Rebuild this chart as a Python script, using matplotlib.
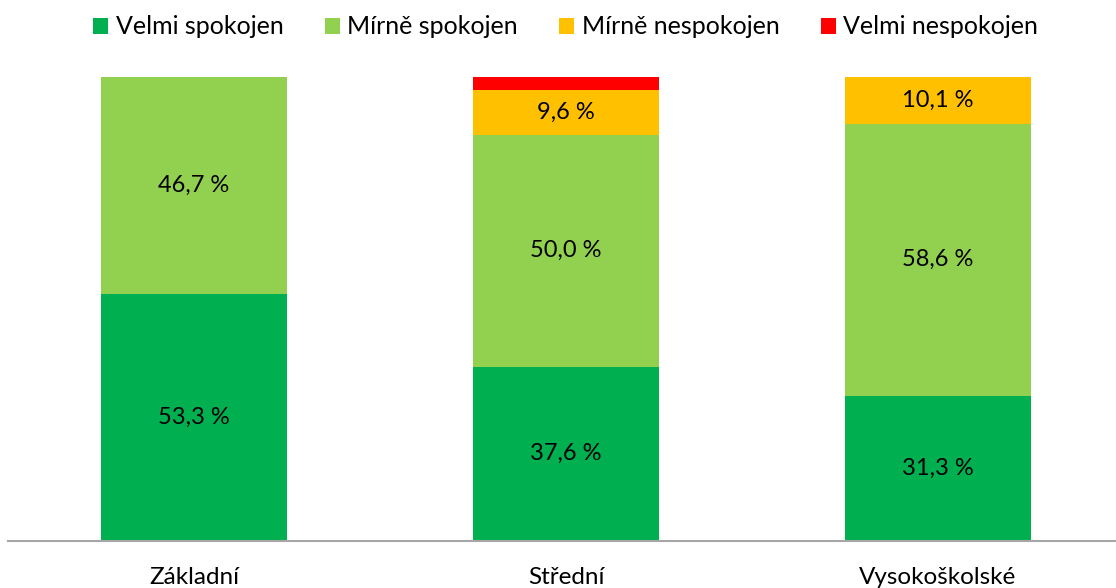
import numpy as np
import matplotlib.pyplot as plt
from matplotlib.patches import Patch

plt.rcParams['font.family'] = ['Lato', 'DejaVu Sans']

# Data
categories = ['Základní', 'Střední', 'Vysokoškolské']
series_names = ['Velmi spokojen', 'Mírně spokojen', 'Mírně nespokojen', 'Velmi nespokojen']
velmi_spokojen = [53.3, 37.6, 31.3]
mirne_spokojen = [46.7, 50.0, 58.6]
mirne_nespokojen = [0.0, 9.6, 10.1]
velmi_nespokojen = [0.0, 2.8, 0.0]
colors = ['#00B050', '#92D050', '#FFC000', '#FF0000']

series = [velmi_spokojen, mirne_spokojen, mirne_nespokojen, velmi_nespokojen]

fig = plt.figure(figsize=(11.16, 5.88), dpi=100)
ax = fig.add_axes([8 / 1116, 1 - 541 / 588, 1.0, (541 - 77) / 588])

x = np.arange(len(categories))
bottom = np.zeros(len(categories))
for name, vals, col in zip(series_names, series, colors):
    vals = np.array(vals)
    ax.bar(x, vals, width=0.5, bottom=bottom, color=col, label=name)
    # labels only for the bigger segments (red one stays unlabelled)
    if name != 'Velmi nespokojen':
        for xi, b, v in zip(x, bottom, vals):
            if v > 0:
                ax.text(xi, b + v / 2, f'{v:.1f} %'.replace('.', ','),
                        ha='center', va='center', fontsize=17, color='black')
    bottom += vals

ax.set_xlim(-0.5, 2.5)
ax.set_ylim(0, 100)
ax.set_yticks([])
ax.set_xticks(x)
ax.set_xticklabels(categories, fontsize=17.5)
ax.tick_params(axis='x', length=0, pad=19)
for s in ['top', 'right', 'left']:
    ax.spines[s].set_visible(False)
ax.spines['bottom'].set_color('#A6A6A6')
ax.spines['bottom'].set_linewidth(1.5)

handles = [Patch(facecolor=c, label=n) for n, c in zip(series_names, colors)]
fig.legend(handles=handles, loc='upper center', bbox_to_anchor=(0.507, 1.012), ncol=4,
           frameon=False, fontsize=18, handlelength=0.6, handleheight=0.6,
           handletextpad=0.3, columnspacing=1.65)

fig.savefig('out.png', dpi=100)
